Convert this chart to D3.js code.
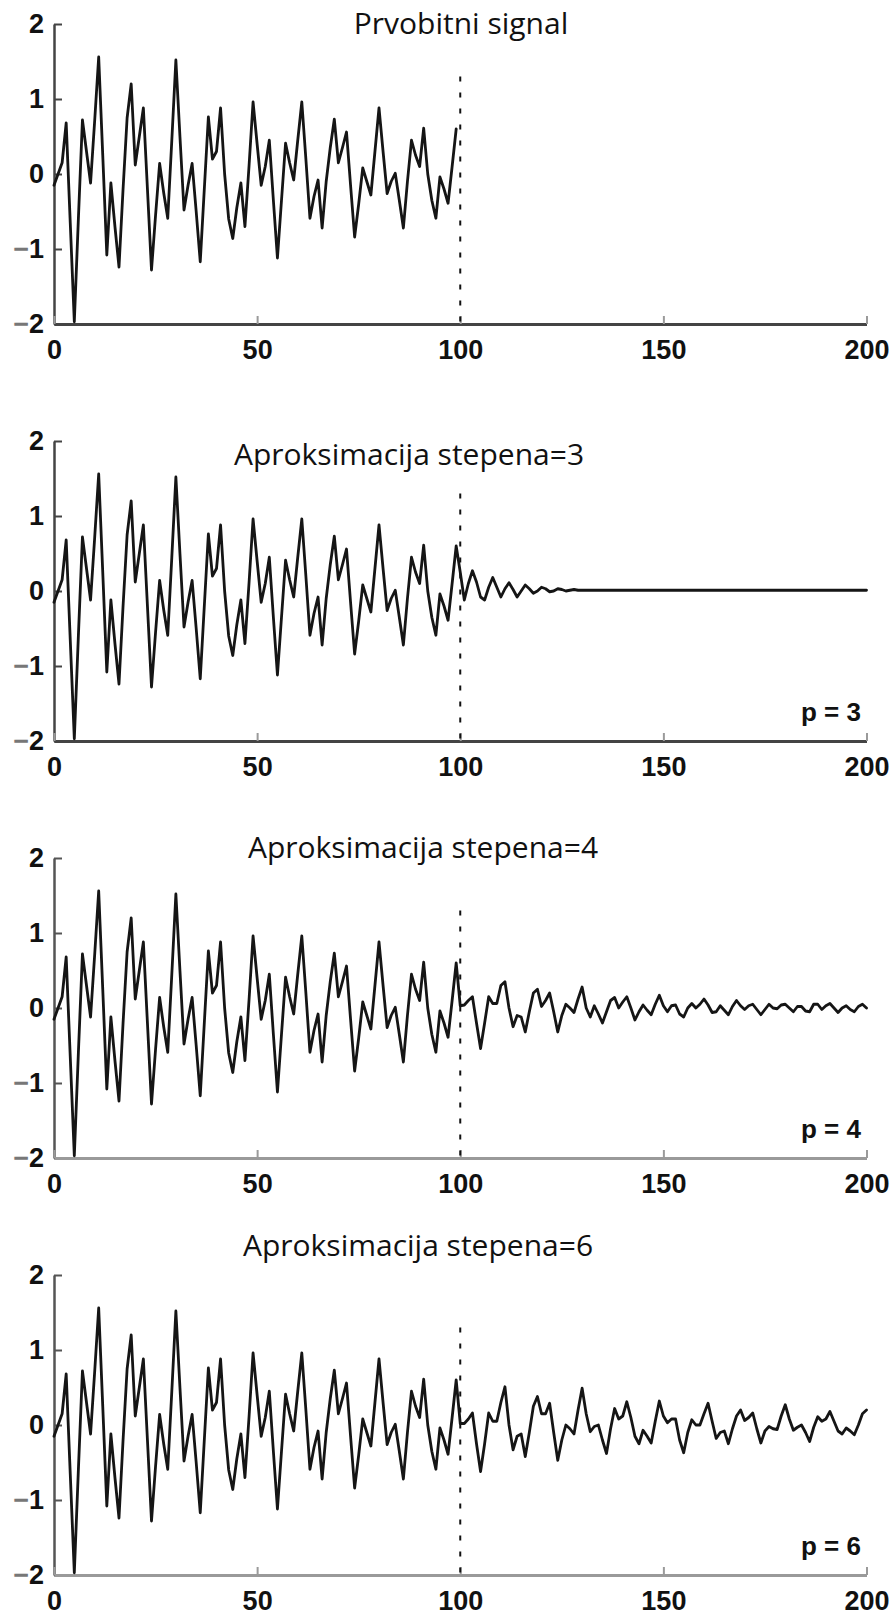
<!DOCTYPE html>
<html>
<head>
<meta charset="utf-8">
<script src="https://cdn.jsdelivr.net/npm/d3@7"></script>
<style>
  html, body { margin: 0; padding: 0; background: #ffffff; }
  svg { display: block; }
</style>
</head>
<body>
<svg id="chart" width="893" height="1616"></svg>
<script>
// Observed signal, samples t = 0 .. 99
const signal = [
  -0.15, 0.00, 0.15, 0.68, -0.65, -1.97, -0.60, 0.72, 0.30, -0.12,
   0.70, 1.56, 0.25, -1.08, -0.12, -0.70, -1.24, -0.20, 0.75, 1.20,
   0.12, 0.50, 0.88, -0.20, -1.28, -0.55, 0.14, -0.25, -0.59, 0.45,
   1.52, 0.50, -0.48, -0.15, 0.14, -0.50, -1.17, -0.20, 0.76, 0.20,
   0.30, 0.88, 0.00, -0.60, -0.86, -0.45, -0.12, -0.70, 0.10, 0.96,
   0.40, -0.15, 0.10, 0.45, -0.35, -1.12, -0.35, 0.41, 0.15, -0.08,
   0.45, 0.96, 0.20, -0.59, -0.30, -0.08, -0.72, -0.10, 0.35, 0.73,
   0.15, 0.35, 0.56, -0.15, -0.84, -0.40, 0.08, -0.10, -0.28, 0.30,
   0.88, 0.30, -0.26, -0.10, 0.01, -0.35, -0.72, -0.10, 0.45, 0.25,
   0.10, 0.61, 0.00, -0.35, -0.59, -0.04, -0.20, -0.39, 0.10, 0.60
];

// Predicted continuation, t = 100 .. 200, model order p = 3
const forecastP3 = [
   0.25, -0.12, 0.10, 0.27, 0.12, -0.08, -0.12, 0.05, 0.18, 0.05,
  -0.08, 0.03, 0.11, 0.02, -0.08, 0.00, 0.08, 0.03, -0.03, 0.00,
   0.05, 0.03, -0.01, 0.00, 0.03, 0.02, 0.00, 0.01, 0.02, 0.01,
   0.01, 0.01, 0.01, 0.01, 0.01, 0.01, 0.01, 0.01, 0.01, 0.01,
   0.01, 0.01, 0.01, 0.01, 0.01, 0.01, 0.01, 0.01, 0.01, 0.01,
   0.01, 0.01, 0.01, 0.01, 0.01, 0.01, 0.01, 0.01, 0.01, 0.01,
   0.01, 0.01, 0.01, 0.01, 0.01, 0.01, 0.01, 0.01, 0.01, 0.01,
   0.01, 0.01, 0.01, 0.01, 0.01, 0.01, 0.01, 0.01, 0.01, 0.01,
   0.01, 0.01, 0.01, 0.01, 0.01, 0.01, 0.01, 0.01, 0.01, 0.01,
   0.01, 0.01, 0.01, 0.01, 0.01, 0.01, 0.01, 0.01, 0.01, 0.01,
   0.01
];

// Predicted continuation, t = 100 .. 200, model order p = 4
const forecastP4 = [
   0.03, 0.04, 0.10, 0.15, -0.20, -0.54, -0.20, 0.15, 0.06, 0.06,
   0.30, 0.35, 0.00, -0.25, -0.10, -0.12, -0.32, -0.05, 0.20, 0.25,
   0.02, 0.10, 0.20, -0.05, -0.32, -0.10, 0.05, 0.00, -0.06, 0.12,
   0.28, 0.00, -0.12, 0.03, -0.08, -0.20, -0.05, 0.10, 0.14, 0.00,
   0.08, 0.15, 0.00, -0.16, -0.05, 0.04, -0.03, -0.09, 0.05, 0.17,
   0.03, -0.05, 0.03, 0.04, -0.08, -0.12, 0.00, 0.06, 0.00, 0.05,
   0.12, 0.04, -0.06, -0.05, 0.03, -0.03, -0.09, 0.02, 0.10, 0.03,
  -0.02, 0.03, 0.05, -0.02, -0.09, -0.02, 0.05, 0.00, -0.01, 0.04,
   0.05, 0.00, -0.05, 0.02, 0.02, -0.04, -0.05, 0.05, 0.05, -0.02,
   0.03, 0.06, 0.00, -0.06, 0.00, 0.03, -0.02, -0.05, 0.02, 0.05,
   0.00
];

// Predicted continuation, t = 100 .. 200, model order p = 6
const forecastP6 = [
   0.02, 0.02, 0.08, 0.16, -0.25, -0.62, -0.25, 0.16, 0.05, 0.05,
   0.30, 0.51, 0.00, -0.33, -0.15, -0.12, -0.42, -0.10, 0.25, 0.38,
   0.15, 0.15, 0.29, -0.10, -0.47, -0.20, 0.00, -0.05, -0.12, 0.20,
   0.49, 0.15, -0.09, -0.02, 0.00, -0.20, -0.38, -0.05, 0.22, 0.08,
   0.12, 0.31, 0.10, -0.15, -0.25, -0.07, -0.15, -0.24, 0.05, 0.32,
   0.12, 0.03, 0.08, 0.08, -0.20, -0.37, -0.10, 0.07, 0.00, 0.00,
   0.15, 0.29, 0.05, -0.18, -0.10, -0.08, -0.25, -0.05, 0.12, 0.20,
   0.06, 0.10, 0.16, -0.05, -0.24, -0.08, -0.02, -0.05, -0.06, 0.12,
   0.27, 0.08, -0.07, -0.03, 0.00, -0.10, -0.22, -0.03, 0.11, 0.05,
   0.08, 0.18, 0.05, -0.08, -0.12, -0.04, -0.08, -0.13, 0.00, 0.15,
   0.20
];

const panelTitles = [
  "Prvobitni signal",
  "Aproksimacija stepena=3",
  "Aproksimacija stepena=4",
  "Aproksimacija stepena=6"
];
const orderLabels = [null, "p = 3", "p = 4", "p = 6"];
const forecasts = [null, forecastP3, forecastP4, forecastP6];

const xTicks = [0, 50, 100, 150, 200];
const yTicks = [-2, -1, 0, 1, 2];
const xDomain = [0, 200];
const yDomain = [-2, 2];
const splitAt = 100;      // first predicted sample
const markerTop = 1.3;    // top end of the split marker

// ---- layout ----
const plotLeft = 54, plotRight = 866.5, plotHeight = 300;
const firstTop = 24, panelStep = 417;
const titleCenters = [461, 409, 423, 418];
const titleBaselines = [34, 465, 858, 1256];
const leftAxisColors = ["#444444", "#444444", "#555555", "#555555"];
const bottomAxisColors = ["#444444", "#444444", "#9a9a9a", "#9a9a9a"];

const svg = d3.select("#chart");
const x = d3.scaleLinear().domain(xDomain).range([plotLeft, plotRight]);

const tickFont = "'Liberation Sans', Arial, sans-serif";
const titleFont = "'Open Sans', 'Noto Sans', sans-serif";

panelTitles.forEach((title, i) => {
  const top = firstTop + i * panelStep;
  const bottom = top + plotHeight;
  const y = d3.scaleLinear().domain(yDomain).range([bottom, top]);
  const g = svg.append("g").attr("class", "panel");

  // series: observed samples followed by prediction
  const pts = signal.map((v, t) => [t, v]);
  if (forecasts[i]) forecasts[i].forEach((v, k) => pts.push([splitAt + k, v]));

  // left axis
  const yAxis = g.append("g")
    .attr("transform", `translate(${plotLeft},0)`)
    .call(d3.axisLeft(y).tickValues(yTicks).tickSizeInner(-8).tickSizeOuter(0).tickPadding(10)
      .tickFormat(d => d));
  yAxis.select(".domain").attr("stroke", leftAxisColors[i]).attr("stroke-width", 2.5);
  yAxis.selectAll(".tick line").attr("stroke", leftAxisColors[i]).attr("stroke-width", 2);

  // bottom axis
  const xAxis = g.append("g")
    .attr("transform", `translate(0,${bottom})`)
    .call(d3.axisBottom(x).tickValues(xTicks).tickSizeInner(-8).tickSizeOuter(0).tickPadding(16));
  xAxis.select(".domain").attr("stroke", bottomAxisColors[i]).attr("stroke-width", 3);
  xAxis.selectAll(".tick line").attr("stroke", "#9a9a9a").attr("stroke-width", 2);

  [yAxis, xAxis].forEach(a => a.selectAll(".tick text")
    .attr("fill", "#111")
    .attr("font-family", tickFont)
    .attr("font-weight", "bold")
    .attr("font-size", 27));

  // negative labels: lighter minus sign
  yAxis.selectAll(".tick text").each(function (d) {
    if (d < 0) {
      const t = d3.select(this).text("");
      t.append("tspan").attr("fill", "#777").text("\u2212");
      t.append("tspan").text(Math.abs(d));
    }
  });

  // split marker
  g.append("line")
    .attr("x1", x(splitAt)).attr("x2", x(splitAt))
    .attr("y1", y(markerTop)).attr("y2", y(yDomain[0]))
    .attr("stroke", "#111").attr("stroke-width", 2)
    .attr("stroke-dasharray", "5,11");

  // signal curve
  g.append("path")
    .datum(pts)
    .attr("fill", "none")
    .attr("stroke", "#151515")
    .attr("stroke-width", 2.8)
    .attr("stroke-linejoin", "round")
    .attr("stroke-linecap", "round")
    .attr("d", d3.line().x(d => x(d[0])).y(d => y(d[1])));

  // title
  svg.append("text")
    .attr("x", titleCenters[i]).attr("y", titleBaselines[i])
    .attr("text-anchor", "middle")
    .attr("font-family", titleFont)
    .attr("font-size", 30)
    .attr("fill", "#111")
    .text(title);

  // model order label
  if (orderLabels[i]) {
    svg.append("text")
      .attr("x", 861).attr("y", bottom - 20)
      .attr("text-anchor", "end")
      .attr("font-family", tickFont)
      .attr("font-weight", "bold")
      .attr("font-size", 26)
      .attr("fill", "#111")
      .text(orderLabels[i]);
  }
});
</script>
</body>
</html>
